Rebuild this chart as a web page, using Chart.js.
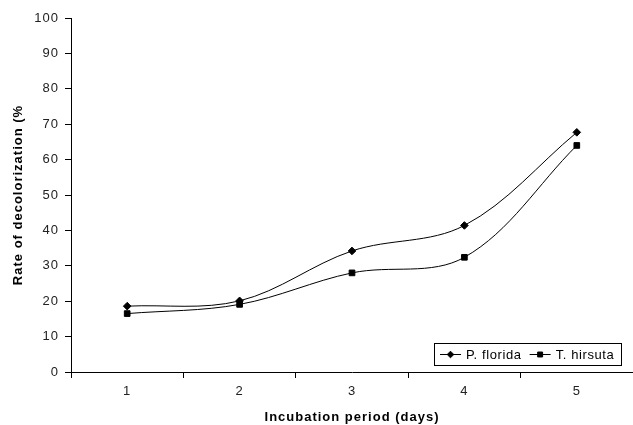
<!DOCTYPE html>
<html>
<head>
<meta charset="utf-8">
<script src="https://cdn.jsdelivr.net/npm/chart.js@4.4.1/dist/chart.umd.min.js"></script>
<style>
  body { margin: 0; background: #fff; }
  #wrap { width: 633px; height: 425px; }
</style>
</head>
<body>
<div id="wrap"><canvas id="grafico" width="633" height="425"></canvas></div>
<script>
// datos
const dias = ["1", "2", "3", "4", "5"];
const pFlorida = [18.6, 20.1, 34.2, 41.4, 67.7];
const tHirsuta = [16.5, 19.1, 28.0, 32.4, 64.0];
const yTicks = [0, 10, 20, 30, 40, 50, 60, 70, 80, 90, 100];

const fuente = "Arial, 'Liberation Sans', sans-serif";

// espaciado de letras como en el original
const espaciado = {
  id: "espaciado",
  beforeUpdate(chart) { chart.ctx.letterSpacing = "1px"; },
  beforeDraw(chart) { chart.ctx.letterSpacing = "1px"; }
};

// leyenda dentro del area, abajo a la derecha
const leyendaBox = {
  id: "leyendaBox",
  afterDraw(chart) {
    const ctx = chart.ctx;
    const area = chart.chartArea;
    ctx.save();
    ctx.letterSpacing = "0.6px";
    ctx.font = "13px " + fuente;
    const sets = chart.data.datasets;
    let w = 6 + 7;
    sets.forEach((ds, i) => {
      w += 26 + ctx.measureText(ds.label).width + (i > 0 ? 8 : 0);
    });
    w = Math.round(w);
    const h = 22;
    const x = Math.round(area.right - 12 - w);
    const y = Math.round(area.bottom - 7 - h);
    ctx.fillStyle = "#fff";
    ctx.fillRect(x, y, w, h);
    ctx.strokeStyle = "#000";
    ctx.lineWidth = 1;
    ctx.strokeRect(x + 0.5, y + 0.5, w, h);
    ctx.textBaseline = "middle";
    ctx.fillStyle = "#000";
    let cx = x + 6;
    const my = y + h / 2 + 0.5;
    sets.forEach((ds) => {
      ctx.beginPath();
      ctx.moveTo(cx, my);
      ctx.lineTo(cx + 21, my);
      ctx.stroke();
      Chart.helpers.drawPoint(ctx, {
        pointStyle: ds.pointStyle,
        radius: ds.pointRadius - 0.5,
        borderWidth: 1
      }, cx + 10.5, my);
      ctx.fillText(ds.label, cx + 26, my + 0.5);
      cx += 26 + ctx.measureText(ds.label).width + 8;
    });
    ctx.restore();
  }
};

const config = {
  type: "line",
  data: {
    labels: dias,
    datasets: [
      {
        label: "P. florida",
        data: pFlorida,
        borderColor: "#000",
        backgroundColor: "#000",
        borderWidth: 1,
        pointStyle: "rectRot",
        pointRadius: 3.8,
        tension: 0.35
      },
      {
        label: "T. hirsuta",
        data: tHirsuta,
        borderColor: "#000",
        backgroundColor: "#000",
        borderWidth: 1,
        pointStyle: "rect",
        pointRadius: 4,
        tension: 0.35
      }
    ]
  },
  options: {
    responsive: false,
    animation: false,
    layout: { autoPadding: false, padding: { top: 18, right: -1, left: 0, bottom: 0 } },
    plugins: {
      legend: { display: false },
      tooltip: { enabled: false }
    },
    scales: {
      x: {
        offset: true,
        grid: { offset: true, drawOnChartArea: false, tickLength: 6, color: "#000" },
        border: { color: "#000", width: 1 },
        ticks: { color: "#222", font: { size: 13, family: fuente }, padding: 6 },
        title: {
          display: true,
          text: "Incubation period (days)",
          color: "#000",
          font: { size: 13, weight: "bold", family: fuente },
          padding: { top: 4, bottom: 0 }
        },
        afterFit: (s) => { s.height = 53; s.paddingLeft = 0; s.paddingRight = 0; }
      },
      y: {
        min: 0,
        max: 100,
        afterBuildTicks: (s) => { s.ticks = yTicks.map((v) => ({ value: v })); },
        grid: { drawOnChartArea: false, tickLength: 6, color: "#000" },
        border: { color: "#000", width: 1 },
        ticks: { color: "#222", font: { size: 13, family: fuente }, padding: 6 },
        title: {
          display: true,
          text: "Rate of decolorization (%",
          color: "#000",
          font: { size: 13, weight: "bold", family: fuente },
          padding: { top: 11, bottom: 4 }
        },
        afterFit: (s) => { s.width = 71; s.paddingTop = 0; s.paddingBottom = 0; }
      }
    }
  },
  plugins: [espaciado, leyendaBox]
};

new Chart(document.getElementById("grafico"), config);
</script>
</body>
</html>
